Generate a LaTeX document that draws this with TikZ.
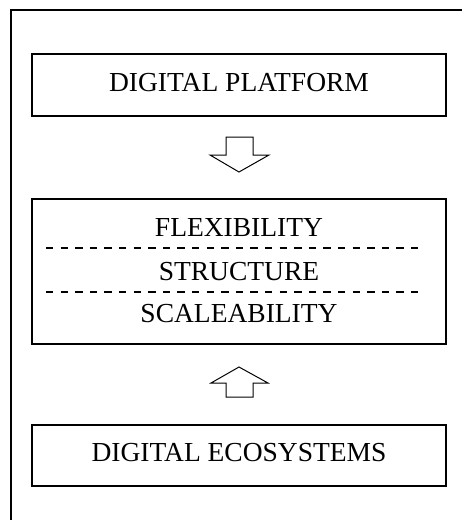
\documentclass[tikz,border=0pt]{standalone}
\usepackage{fontspec}
\setmainfont{Liberation Serif}
\begin{document}
\begin{tikzpicture}[x=1pt,y=-1pt,
  box/.style={draw, line width=1.5pt, minimum width=414pt, inner sep=0pt},
  lbl/.style={font=\fontsize{27.5}{30}\selectfont, inner sep=0pt, text height=18.5pt, text depth=0pt},
  sep/.style={line width=1.8pt, dash pattern=on 7.3pt off 7.3pt},
  blockarrow/.style={draw, line width=1pt, fill=white}]
\useasboundingbox (0,0) rectangle (462,520);
\fill[white] (0,0) rectangle (462,520);
% outer frame (open on the right and bottom)
\coordinate (fbl) at (11,520);
\coordinate (ftl) at (11,10);
\coordinate (ftr) at (462,10);
\draw[line width=1.5pt] (fbl) -- (ftl) -- (ftr);
% boxes
\node[box, minimum height=62pt] (platform) at (239,85) {};
\node[lbl] (platformt) at (239,82) {DIGITAL PLATFORM};
\node[box, minimum height=145pt] (mid) at (239,271.5) {};
\node[lbl] (flex) at (239,227) {FLEXIBILITY};
\node[lbl] (struct) at (239,271) {STRUCTURE};
\node[lbl] (scale) at (239,313) {SCALEABILITY};
\coordinate (d1l) at (46,248);
\coordinate (d1r) at (422,248);
\coordinate (d2l) at (46,292);
\coordinate (d2r) at (422,292);
\draw[sep] (d1l) -- (d1r);
\draw[sep] (d2l) -- (d2r);
\node[box, minimum height=61pt] (eco) at (239,455.5) {};
\node[lbl] (ecot) at (239,452) {DIGITAL ECOSYSTEMS};
% block arrows
\draw[blockarrow] (226,137) -- (253,137) -- (253,155) -- (269,155) -- (239,172) -- (210,155) -- (226,155) -- cycle;
\draw[blockarrow] (239,367) -- (268,383) -- (253,383) -- (253,397) -- (226,397) -- (226,383) -- (211,383) -- cycle;
\end{tikzpicture}
\end{document}
